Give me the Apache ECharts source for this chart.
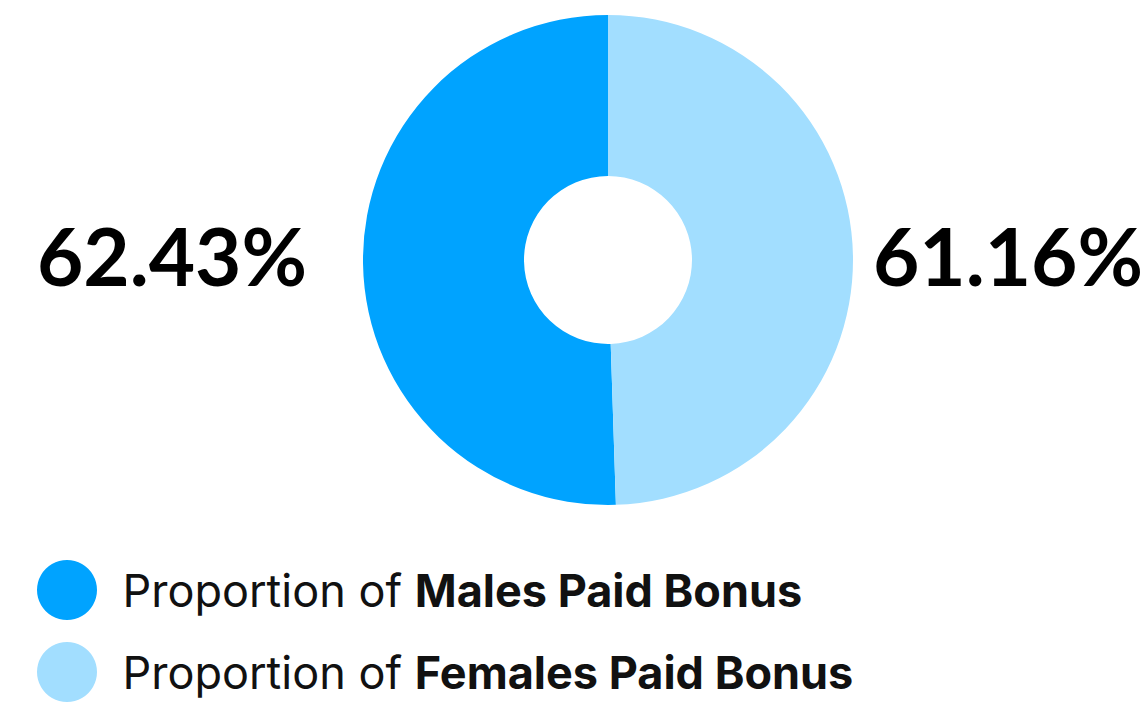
<!DOCTYPE html>
<html>
<head>
<meta charset="utf-8">
<script src="https://cdn.jsdelivr.net/npm/echarts@6/dist/echarts.min.js"></script>
<style>
html,body{margin:0;padding:0;background:#fff;}
#chart{width:1142px;height:702px;}
</style>
</head>
<body>
<div id="chart"></div>
<script>
const categories = ['Males Paid Bonus', 'Females Paid Bonus'];
const values = [62.43, 61.16];
const colors = ['#00A3FF', '#A2DEFF'];
const labelPrefix = 'Proportion of ';

const chart = echarts.init(document.getElementById('chart'), null, {renderer: 'svg'});
const FONT = 'Inter, Lato, sans-serif';
const NUM_FONT = 'Lato, Inter, sans-serif';

chart.setOption({
  animation: false,
  color: colors,
  legend: {
    orient: 'vertical',
    left: 37,
    top: 560,
    height: 142,
    padding: 0,
    icon: 'circle',
    itemWidth: 61,
    itemHeight: 60,
    itemGap: 22,
    selectedMode: false,
    formatter: function (name) { return '{r|' + labelPrefix + '}{b|' + name + '}'; },
    textStyle: {
      padding: [0, 0, 0, 20],
      rich: {
        r: {fontFamily: FONT, fontSize: 45, fontWeight: 400, color: '#111'},
        b: {fontFamily: FONT, fontSize: 45, fontWeight: 700, color: '#111'}
      }
    }
  },
  series: [{
    type: 'pie',
    center: [608, 260],
    radius: [84, 245],
    startAngle: 90,
    clockwise: false,
    avoidLabelOverlap: false,
    data: categories.map((c, i) => ({name: c, value: values[i]})),
    itemStyle: {borderWidth: 0},
    emphasis: {disabled: true},
    label: {
      show: true,
      formatter: function (p) { return p.value.toFixed(2) + '%'; },
      fontFamily: NUM_FONT,
      fontSize: 80,
      fontWeight: 700,
      color: '#000'
    },
    labelLine: {show: false},
    labelLayout: function (params) {
      return {
        x: params.dataIndex === 0 ? 172 : 1008,
        y: 255,
        align: 'center',
        verticalAlign: 'middle'
      };
    }
  }]
});
</script>
</body>
</html>
